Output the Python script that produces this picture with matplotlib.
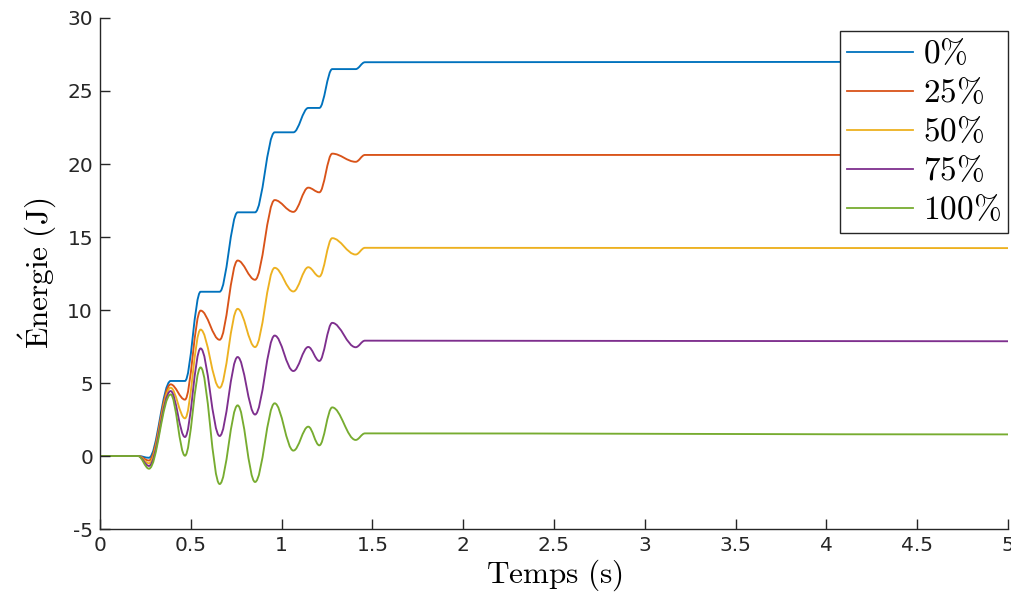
import matplotlib
matplotlib.use("Agg")
import matplotlib.pyplot as plt
from matplotlib.path import Path
from matplotlib.patches import PathPatch
from matplotlib.lines import Line2D

plt.rcParams['mathtext.fontset'] = 'cm'
plt.rcParams['axes.unicode_minus'] = False

# instants des extrema (s), communs a toutes les courbes
t = [0, 0.21, 0.27, 0.389, 0.468, 0.554, 0.659, 0.758, 0.854, 0.962,
     1.065, 1.147, 1.208, 1.279, 1.408, 1.459, 5.0]

# energie (J) aux extrema, par taux de recuperation
e_0 = [0, 0, -0.12, 5.14, 5.14, 11.25, 11.25, 16.69, 16.69, 22.17,
       22.17, 23.84, 23.84, 26.50, 26.50, 26.97, 27.0]
e_25 = [0, 0, -0.31, 4.91, 3.86, 9.96, 7.96, 13.39, 12.07, 17.53,
        16.72, 18.38, 18.06, 20.71, 20.15, 20.62, 20.62]
e_50 = [0, 0, -0.50, 4.68, 2.58, 8.66, 4.67, 10.08, 7.46, 12.89,
        11.27, 12.93, 12.29, 14.92, 13.80, 14.26, 14.24]
e_75 = [0, 0, -0.68, 4.45, 1.30, 7.37, 1.37, 6.78, 2.84, 8.25,
        5.82, 7.47, 6.51, 9.12, 7.45, 7.90, 7.86]
e_100 = [0, 0, -0.87, 4.22, 0.02, 6.07, -1.92, 3.47, -1.78, 3.61,
         0.37, 2.01, 0.73, 3.33, 1.10, 1.55, 1.48]

labels = ['0', '25', '50', '75', '100']
series = [e_0, e_25, e_50, e_75, e_100]
colors = ['#0072BD', '#D95319', '#EDB120', '#7E2F8E', '#77AC30']

xticks = [0, 0.5, 1, 1.5, 2, 2.5, 3, 3.5, 4, 4.5, 5]
xtick_labels = ['0', '0.5', '1', '1.5', '2', '2.5', '3', '3.5', '4', '4.5', '5']
yticks = [-5, 0, 5, 10, 15, 20, 25, 30]


def smooth_path(x, y, h=0.364):
    # courbe de Bezier passant par les extrema, tangentes horizontales
    verts = [(x[0], y[0])]
    codes = [Path.MOVETO]
    for i in range(len(x) - 1):
        dx = (x[i + 1] - x[i]) * h
        verts += [(x[i] + dx, y[i]), (x[i + 1] - dx, y[i + 1]), (x[i + 1], y[i + 1])]
        codes += [Path.CURVE4] * 3
    return Path(verts, codes)


fig = plt.figure(figsize=(10.11, 5.92), dpi=100)
ax = fig.add_axes([0.0989, 0.1064, 0.8981, 0.8632])

handles = []
for y, lab, c in zip(series, labels, colors):
    ax.add_patch(PathPatch(smooth_path(t, y), fill=False, edgecolor=c, lw=1.35,
                           joinstyle='round', capstyle='round'))
    handles.append(Line2D([], [], color=c, lw=1.3, label=r'$%s\%%$' % lab))

ax.set_xlim(0, 5)
ax.set_ylim(-5, 30)
ax.set_xticks(xticks)
ax.set_xticklabels(xtick_labels)
ax.set_yticks(yticks)

for side in ['top', 'right']:
    ax.spines[side].set_visible(False)
for side in ['left', 'bottom']:
    ax.spines[side].set_color('#262626')
    ax.spines[side].set_linewidth(1.0)
ax.tick_params(direction='in', length=7, width=1.0, colors='#262626',
               labelsize=14.5, pad=5)

ax.set_xlabel(r'$\mathrm{Temps\ (s)}$', fontsize=22.5, labelpad=2)
ax.set_ylabel(r'$\mathrm{\acute{E}nergie\ (J)}$', fontsize=22.5, labelpad=6)

leg = ax.legend(handles=handles, loc='upper right', bbox_to_anchor=(1.0, 0.975),
                fontsize=24, fancybox=False, framealpha=1, edgecolor='#262626',
                handlelength=2.0, handletextpad=0.3, labelspacing=0.18,
                borderpad=0.2, borderaxespad=0)
leg.get_frame().set_linewidth(1.0)

fig.savefig('out.png', dpi=100)
